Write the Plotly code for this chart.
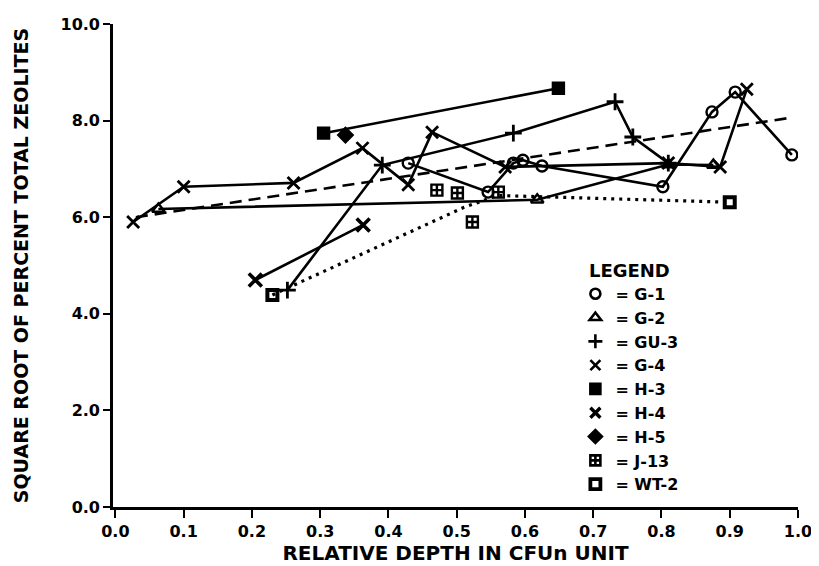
import plotly.graph_objects as go

# ---------------- data ----------------
x_tick_vals = [0.0, 0.1, 0.2, 0.3, 0.4, 0.5, 0.6, 0.7, 0.8, 0.9, 1.0]
y_tick_vals = [0.0, 2.0, 4.0, 6.0, 8.0, 10.0]

g1_x = [0.429, 0.546, 0.583, 0.597, 0.625, 0.802, 0.874, 0.908, 0.991]
g1_y = [7.12, 6.52, 7.12, 7.18, 7.06, 6.63, 8.18, 8.59, 7.29]

g2_x = [0.063, 0.618, 0.810, 0.876]
g2_y = [6.17, 6.36, 7.09, 7.08]

gu3_x = [0.252, 0.391, 0.583, 0.732, 0.758, 0.810]
gu3_y = [4.49, 7.08, 7.74, 8.39, 7.66, 7.12]

g4_x = [0.026, 0.100, 0.261, 0.362, 0.429, 0.464, 0.571, 0.810, 0.886, 0.925]
g4_y = [5.90, 6.63, 6.71, 7.43, 6.67, 7.76, 7.04, 7.12, 7.04, 8.65]

h3_x = [0.305, 0.649]
h3_y = [7.74, 8.67]

h4_x = [0.205, 0.363]
h4_y = [4.70, 5.84]

h5_x = [0.337]
h5_y = [7.70]

j13_x = [0.471, 0.501, 0.523, 0.561]
j13_y = [6.56, 6.50, 5.90, 6.52]

wt2_x = [0.230, 0.510, 0.560, 0.900]
wt2_y = [4.39, 6.20, 6.45, 6.31]

trend_x = [0.030, 0.985]
trend_y = [6.00, 8.05]

legend_names = ["G-1", "G-2", "GU-3", "G-4", "H-3", "H-4", "H-5", "J-13", "WT-2"]

# ---------------- figure ----------------
FONT = "DejaVu Sans"
INK = "black"

fig = go.Figure()


def add_series(x, y, symbol, dash="solid", mode="lines+markers", msize=11,
               lw=2.6, mlw=2.4):
    fig.add_trace(go.Scatter(
        x=x, y=y, mode=mode, showlegend=False, hoverinfo="skip",
        line=dict(color=INK, width=lw, dash=dash),
        marker=dict(symbol=symbol, size=msize,
                    color=INK, line=dict(color=INK, width=mlw)),
    ))


# dashed trend line (no markers)
fig.add_trace(go.Scatter(x=trend_x, y=trend_y, mode="lines", showlegend=False,
                         hoverinfo="skip",
                         line=dict(color=INK, width=2.6, dash="12px,7px")))

# WT-2: dotted line, square markers only at the two ends
add_series(wt2_x, wt2_y, "square-open", dash="3px,5px", mode="lines", lw=3.2)
add_series([wt2_x[0], wt2_x[-1]], [wt2_y[0], wt2_y[-1]], "square-open",
           mode="markers", msize=10, mlw=4)

add_series(g2_x, g2_y, "triangle-up-open")
add_series(g4_x, g4_y, "x-thin-open", msize=12, mlw=2.8)
add_series(gu3_x, gu3_y, "cross-thin-open", msize=12, mlw=2.8)
add_series(g1_x, g1_y, "circle-open", msize=11)
add_series(h3_x, h3_y, "square", msize=11)
add_series(h4_x, h4_y, "x-thin-open", msize=13, mlw=3.6)
add_series(h5_x, h5_y, "diamond", mode="markers", msize=11)
add_series(j13_x, j13_y, "square-cross-open", mode="markers", msize=11, mlw=2.4)

# legend-only entries (symbol + "= name")
legend_symbols = ["circle-open", "triangle-up-open", "cross-thin-open", "x-thin-open",
                  "square", "x-thin-open", "diamond", "square-cross-open",
                  "square-open"]
legend_line_w = [2.6, 2.6, 2.6, 2.6, 2.6, 3.4, 2.6, 2.6, 3.8]
for name, sym, w in zip(legend_names, legend_symbols, legend_line_w):
    fig.add_trace(go.Scatter(
        x=[None], y=[None], mode="markers", name="= " + name,
        marker=dict(symbol=sym, size=10, color=INK,
                    line=dict(color=INK, width=w)),
    ))

axis_common = dict(
    showline=True, linecolor=INK, linewidth=2.6,
    ticks="outside", tickwidth=2, tickcolor=INK,
    showgrid=False, zeroline=False, automargin=False,
    tickfont=dict(family=FONT, size=16, color=INK, weight="bold"),
    tickformat=".1f",
)

# page has an 8px body margin, so the figure is 8px smaller than the window
fig.update_layout(
    width=811, height=558,
    margin=dict(l=105, r=21, t=16, b=59, autoexpand=False),
    paper_bgcolor="white", plot_bgcolor="white",
    font=dict(family=FONT, size=16, color=INK, weight="bold"),
    xaxis=dict(
        range=[-0.0035, 1.0], tickvals=x_tick_vals, ticklen=8,
        title=dict(text="RELATIVE DEPTH IN CFUn UNIT", standoff=5,
                   font=dict(family=FONT, size=20, color=INK, weight="bold")),
        **axis_common),
    yaxis=dict(
        range=[0, 10], tickvals=y_tick_vals, ticklen=7,
        title=dict(text="SQUARE ROOT OF PERCENT TOTAL ZEOLITES", standoff=27,
                   font=dict(family=FONT, size=19, color=INK, weight="bold")),
        **axis_common),
    legend=dict(
        x=0.675, y=0.525, xanchor="left", yanchor="top",
        bgcolor="rgba(0,0,0,0)", borderwidth=0,
        font=dict(family=FONT, size=16, color=INK, weight="bold"),
        title=dict(text="LEGEND", side="top center",
                   font=dict(family=FONT, size=18, color=INK, weight="bold")),
        itemwidth=30, tracegroupgap=0,
    ),
)

fig.write_html("out.html")
